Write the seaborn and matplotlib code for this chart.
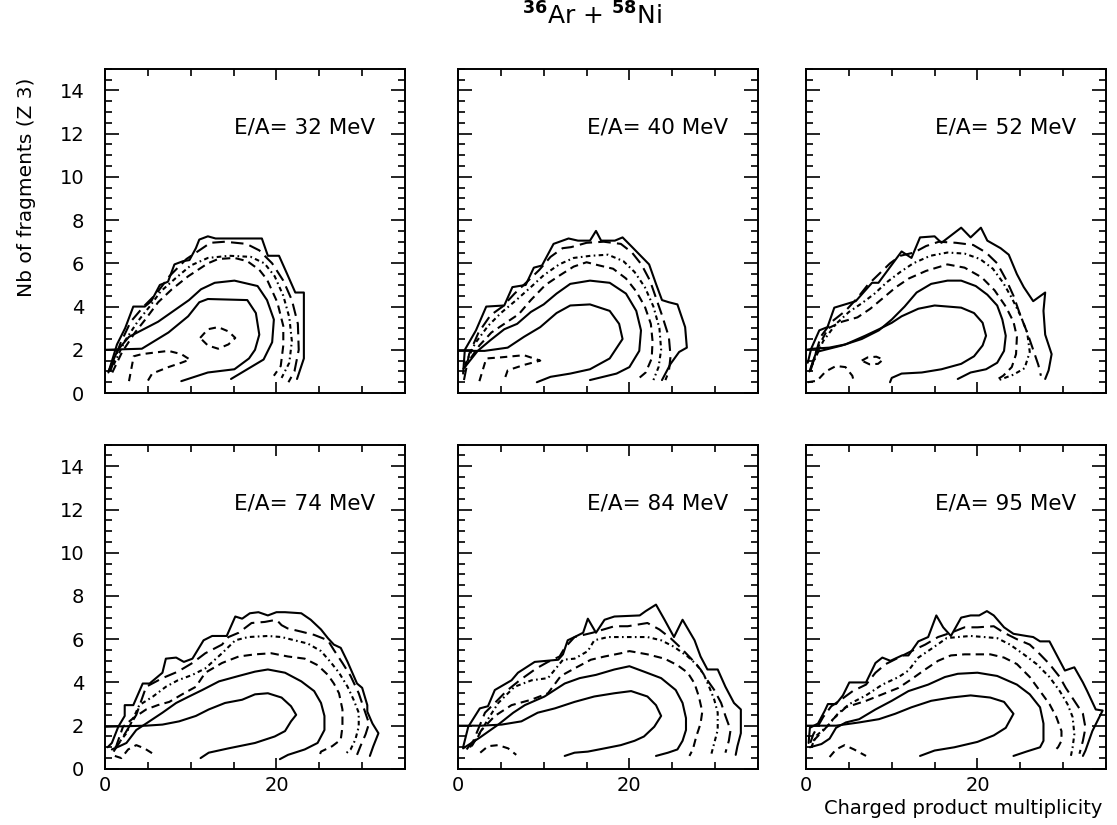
import numpy as np
import pandas as pd
import seaborn as sns
import matplotlib
matplotlib.use("Agg")
import matplotlib.pyplot as plt
from matplotlib.ticker import MultipleLocator

# --- DATA: contour lines, (multiplicity, nb of fragments) ---
# c1 = outermost solid, c2 long dash, c3 dash-dot, c4 dashed, c5/c6 inner solids, isl = small dashed islands
ENERGIES = [32, 40, 52, 74, 84, 95]

e32_c1 = [(0.4,0.95),(1.4,2.25),(2.35,3.0),(3.3,4.0),(4.65,4.0),(5.4,4.25),(6.4,5.0),(7.35,5.15),(8.1,5.95),(9.1,6.1),(9.85,6.15),(10.6,6.7),(11.0,7.1),(12.0,7.25),(12.9,7.15),(18.3,7.15),(19.0,6.35),(20.3,6.35),(21.2,5.55),(22.2,4.65),(23.2,4.65),(23.2,2.9),(23.2,1.6),(22.4,0.65)]
e32_c2 = [(0.6,1.0),(1.8,2.3),(3.0,3.3),(4.5,4.0),(6.0,4.6),(7.5,5.4),(9.5,6.2),(11.0,6.6),(12.3,6.95),(14.0,7.0),(16.5,6.9),(18.0,6.6),(19.5,6.0),(20.8,5.2),(21.8,4.3),(22.5,3.2),(22.6,2.0),(22.1,1.0),(21.4,0.5)]
e32_c3 = [(1.0,1.3),(2.3,2.4),(3.8,3.3),(5.2,4.0),(6.5,4.7),(8.2,5.3),(10.0,5.9),(12.0,6.25),(14.5,6.35),(17.0,6.3),(18.6,6.0),(19.8,5.4),(20.8,4.5),(21.5,3.5),(21.8,2.4),(21.5,1.4),(20.6,0.7)]
e32_c4 = [(0.85,0.95),(2.0,1.9),(3.5,2.8),(4.7,3.4),(6.2,4.2),(7.8,4.8),(9.7,5.4),(12.0,6.0),(13.2,6.2),(15.1,6.25),(16.6,6.1),(18.0,5.7),(18.9,5.25),(20.1,4.2),(20.8,3.1),(20.8,2.2),(20.5,1.25),(19.7,0.8)]
e32_c5 = [(0.4,1.0),(1.5,2.0),(2.8,2.6),(4.5,2.95),(6.2,3.3),(8.0,3.8),(9.8,4.3),(11.2,4.8),(12.8,5.1),(15.1,5.2),(17.8,4.95),(18.9,4.3),(19.7,3.4),(19.5,2.35),(18.5,1.55),(16.6,1.1),(14.7,0.65)]
e32_c6 = [(0.0,2.0),(4.3,2.05),(7.4,2.8),(9.7,3.55),(11.0,4.2),(12.0,4.35),(16.6,4.3),(17.6,3.7),(18.0,2.7),(17.5,2.0),(16.8,1.6),(15.1,1.1),(12.0,0.95),(8.9,0.55)]
e32_isl_a = [(11.1,2.55),(12.0,2.95),(13.2,3.05),(14.4,2.85),(15.2,2.55),(14.4,2.25),(13.2,2.05),(12.0,2.2),(11.1,2.55)]
e32_isl_b = [(2.8,0.55),(3.35,1.7),(4.3,1.8),(7.4,1.95),(8.9,1.8),(9.9,1.55),(8.9,1.4),(7.4,1.2),(5.5,0.9),(4.9,0.5)]

e40_c1 = [(0.6,0.9),(0.8,2.0),(2.1,2.9),(3.3,4.0),(5.4,4.05),(6.35,4.9),(7.9,5.0),(8.85,5.8),(9.8,5.9),(11.15,6.9),(12.9,7.15),(14.0,7.05),(15.4,7.05),(16.1,7.5),(16.7,7.05),(18.3,7.05),(19.2,7.2),(20.2,6.8),(22.3,5.95),(23.1,5.05),(23.8,4.3),(24.6,4.2),(25.6,4.1),(26.5,3.05),(26.7,2.1),(25.8,1.9),(24.8,1.35),(23.8,0.6)]
e40_c2 = [(0.7,0.6),(1.3,1.8),(2.4,2.8),(3.8,3.6),(5.2,4.0),(6.6,4.6),(8.2,5.2),(9.5,5.7),(10.8,6.3),(12.2,6.7),(13.2,6.75),(15.0,6.95),(17.0,7.0),(19.0,6.9),(20.3,6.5),(21.4,5.95),(22.4,5.2),(23.1,4.4),(23.8,3.6),(24.6,2.6),(24.8,1.7),(24.6,1.0),(24.2,0.6)]
e40_c3 = [(0.8,1.3),(2.0,2.3),(3.5,3.1),(5.0,3.7),(6.8,4.3),(8.5,4.9),(10.0,5.45),(11.8,5.95),(13.5,6.25),(15.5,6.35),(17.5,6.4),(19.3,6.1),(20.6,5.6),(21.8,4.9),(22.8,4.0),(23.5,3.0),(23.7,2.0),(23.4,1.2),(22.8,0.6)]
e40_c4 = [(0.6,1.1),(2.5,2.2),(3.9,2.8),(5.4,3.2),(7.1,3.65),(8.5,4.3),(10.2,5.0),(11.9,5.45),(13.5,5.85),(15.0,6.05),(16.5,5.9),(18.1,5.75),(19.6,5.3),(20.8,4.7),(21.8,4.0),(22.5,3.2),(22.7,2.4),(22.6,1.6),(21.9,0.95),(21.0,0.65)]
e40_c5 = [(0.8,1.2),(2.3,1.95),(3.8,2.45),(5.4,2.95),(6.9,3.2),(8.5,3.75),(10.0,4.1),(11.5,4.6),(13.1,5.05),(15.4,5.2),(17.7,5.1),(19.6,4.6),(20.8,3.8),(21.35,2.9),(21.15,1.95),(20.0,1.2),(18.5,0.9),(15.4,0.6)]
e40_c6 = [(0.0,1.95),(3.1,1.95),(5.8,2.1),(7.7,2.6),(9.6,3.05),(11.5,3.7),(13.1,4.05),(15.4,4.1),(17.7,3.8),(18.8,3.2),(19.2,2.5),(17.7,1.6),(15.4,1.1),(13.1,0.9),(10.8,0.75),(9.2,0.5)]
e40_isl_b = [(2.5,0.55),(3.3,1.6),(5.0,1.65),(7.7,1.75),(9.6,1.5),(7.7,1.3),(5.8,1.05),(5.4,0.6)]

e52_c1 = [(0.2,1.4),(0.6,2.05),(1.55,2.9),(2.5,3.05),(3.3,3.95),(5.8,4.25),(7.7,5.1),(8.45,5.1),(11.15,6.55),(12.3,6.25),(13.3,7.2),(15.0,7.25),(15.8,6.95),(18.1,7.65),(19.2,7.2),(20.4,7.65),(21.15,7.05),(22.7,6.7),(23.65,6.4),(24.6,5.5),(25.4,4.9),(26.5,4.25),(27.9,4.65),(27.7,3.8),(27.9,2.7),(28.65,1.8),(28.3,1.05),(27.9,0.65)]
e52_c2 = [(0.5,1.0),(1.7,2.6),(3.0,3.3),(4.6,3.8),(6.0,4.4),(7.2,5.0),(8.5,5.5),(9.8,6.0),(11.0,6.35),(12.6,6.5),(14.0,6.8),(15.5,7.0),(17.5,6.95),(19.5,6.85),(21.0,6.5),(22.3,6.0),(23.4,5.2),(24.2,4.5),(25.0,3.6),(25.8,2.8),(26.5,2.0),(27.1,1.3),(27.4,0.8)]
e52_c3 = [(0.6,1.2),(2.0,2.4),(3.5,3.2),(5.0,3.75),(6.5,4.15),(8.0,4.6),(9.5,5.15),(11.0,5.6),(12.5,6.0),(14.5,6.35),(16.5,6.5),(18.5,6.45),(20.3,6.2),(21.8,5.75),(23.0,5.1),(24.0,4.4),(25.0,3.6),(25.8,2.8),(26.1,1.9),(25.5,1.15),(24.2,0.85),(22.5,0.6)]
e52_c4 = [(0.7,1.3),(1.5,2.2),(2.6,3.0),(4.2,3.3),(6.0,3.5),(7.5,3.9),(9.0,4.4),(10.5,4.9),(12.0,5.3),(14.0,5.65),(16.5,5.95),(18.5,5.8),(20.5,5.35),(22.0,4.75),(23.3,4.0),(24.2,3.3),(24.6,2.6),(24.5,1.8),(24.0,1.2),(23.0,0.8),(22.0,0.55)]
e52_c5 = [(0.4,1.0),(1.2,1.9),(4.2,2.2),(6.5,2.5),(8.5,2.9),(10.0,3.4),(11.5,4.0),(12.9,4.65),(14.6,5.05),(16.5,5.2),(18.1,5.2),(19.8,4.95),(21.15,4.55),(22.3,4.05),(22.9,3.4),(23.3,2.65),(23.1,1.95),(22.3,1.4),(21.0,1.1),(19.2,0.95),(17.7,0.65)]
e52_c6 = [(0.0,2.0),(0.8,2.05),(2.7,2.1),(4.6,2.25),(6.9,2.65),(8.5,2.95),(10.0,3.25),(11.15,3.55),(13.1,3.9),(15.0,4.05),(18.1,3.95),(19.6,3.7),(20.6,3.25),(21.0,2.65),(20.6,2.2),(19.6,1.7),(18.1,1.35),(15.8,1.1),(13.5,0.95),(11.15,0.9),(10.0,0.7),(9.8,0.5)]
e52_isl_a = [(6.5,1.5),(7.2,1.65),(8.2,1.68),(9.0,1.55),(8.4,1.35),(7.4,1.33),(6.5,1.5)]
e52_isl_b = [(0.2,0.5),(1.3,0.57),(2.3,1.0),(3.5,1.25),(4.6,1.2),(5.4,0.8),(5.6,0.5)]

e74_c1 = [(0.3,1.0),(0.8,1.2),(1.55,1.95),(2.3,2.45),(2.3,2.95),(3.3,2.95),(4.4,3.95),(5.2,3.95),(6.7,4.45),(7.1,5.1),(8.3,5.15),(9.2,4.95),(10.2,5.1),(11.5,5.95),(12.5,6.15),(14.2,6.15),(15.2,7.05),(16.0,6.95),(16.9,7.2),(17.9,7.25),(19.0,7.1),(20.0,7.25),(21.0,7.25),(22.9,7.2),(24.0,6.9),(25.2,6.45),(26.0,6.05),(26.7,5.75),(27.5,5.6),(28.3,4.95),(29.4,3.95),(30.0,3.75),(30.6,2.95),(30.6,2.65),(31.2,2.1),(31.9,1.65),(31.3,1.05),(30.9,0.6)]
e74_c2 = [(1.0,0.8),(1.9,1.35),(3.65,2.5),(4.8,3.8),(6.7,4.2),(8.5,4.5),(10.2,4.9),(11.7,5.35),(13.65,5.75),(14.4,6.1),(15.6,6.3),(17.1,6.75),(18.65,6.8),(20.0,6.9),(20.6,6.65),(21.3,6.5),(22.9,6.35),(24.4,6.2),(26.0,5.95),(26.7,5.5),(27.7,4.9),(28.65,4.3),(29.6,3.5),(30.2,2.8),(30.8,2.1),(30.4,1.6),(29.8,1.05),(29.4,0.65)]
e74_c3 = [(1.2,1.0),(2.5,1.65),(4.0,2.95),(5.6,3.35),(7.1,3.8),(8.5,4.1),(10.2,4.35),(11.7,4.65),(13.65,5.35),(15.2,5.95),(16.7,6.1),(19.0,6.15),(20.6,6.1),(22.1,5.95),(23.65,5.8),(25.2,5.45),(26.3,4.95),(27.3,4.45),(28.3,3.8),(29.0,3.2),(29.6,2.6),(29.6,1.95),(29.2,1.35),(28.65,0.9),(27.9,0.65)]
e74_c4 = [(1.35,1.1),(2.1,1.95),(3.3,2.35),(4.8,2.75),(6.15,2.95),(7.5,3.1),(9.0,3.45),(10.6,3.8),(11.7,4.45),(13.65,4.9),(15.6,5.2),(17.5,5.3),(19.4,5.35),(21.35,5.2),(23.3,5.1),(24.8,4.8),(26.0,4.35),(26.7,3.95),(27.3,3.5),(27.7,2.75),(27.7,1.95),(27.5,1.35),(26.5,1.05),(25.2,0.8),(25.0,0.6)]
e74_c5 = [(0.8,0.9),(1.7,1.05),(2.5,1.2),(3.65,1.8),(4.8,2.1),(6.7,2.6),(8.3,3.05),(9.8,3.35),(11.35,3.65),(13.3,4.05),(15.6,4.3),(17.5,4.5),(19.0,4.6),(21.0,4.45),(22.9,4.05),(24.4,3.6),(25.2,3.05),(25.6,2.45),(25.6,1.8),(24.8,1.2),(23.3,0.9),(21.35,0.65),(20.4,0.45)]
e74_c6 = [(0.0,1.95),(4.8,2.0),(6.7,2.05),(8.65,2.2),(10.6,2.45),(12.1,2.75),(14.0,3.05),(16.0,3.2),(17.5,3.45),(19.0,3.5),(20.6,3.3),(21.7,2.9),(22.3,2.5),(21.7,2.2),(21.0,1.75),(19.8,1.5),(17.5,1.2),(14.4,0.95),(12.1,0.75),(11.15,0.5)]
e74_isl_b = [(1.15,0.6),(1.9,0.5),(2.7,0.9),(3.65,1.1),(4.6,0.95),(5.4,0.75),(6.0,0.6)]

e84_c1 = [(0.6,1.0),(1.2,1.95),(2.55,2.8),(3.5,2.9),(4.3,3.65),(6.25,4.1),(7.0,4.45),(8.95,4.95),(11.7,5.05),(12.25,5.3),(12.8,5.95),(13.6,6.1),(14.6,6.3),(15.15,6.95),(16.1,6.3),(17.1,6.9),(18.25,7.05),(21.2,7.1),(21.9,7.3),(23.1,7.6),(24.1,6.9),(25.2,6.1),(26.2,6.9),(27.6,5.95),(28.3,5.2),(29.1,4.6),(30.3,4.6),(31.2,3.8),(32.2,3.05),(33.0,2.75),(33.0,1.65),(32.6,1.05),(32.4,0.65)]
e84_c2 = [(1.0,0.9),(1.8,1.3),(3.15,2.6),(4.3,3.05),(5.65,3.6),(7.2,4.1),(9.15,4.65),(10.5,4.95),(11.85,5.2),(12.45,5.6),(13.6,6.1),(15.7,6.3),(18.25,6.6),(19.8,6.6),(22.1,6.75),(23.5,6.45),(24.8,6.05),(26.0,5.6),(27.2,5.1),(28.3,4.6),(29.1,4.1),(29.9,3.65),(30.7,3.05),(31.2,2.45),(31.8,1.8),(31.6,1.3),(31.2,0.75)]
e84_c3 = [(1.4,1.0),(2.35,1.5),(3.5,2.3),(4.7,3.05),(6.6,3.8),(8.6,4.1),(10.5,4.2),(12.25,5.05),(13.6,5.1),(15.15,5.45),(15.9,5.95),(17.5,6.1),(19.8,6.1),(22.1,6.1),(23.7,5.95),(25.2,5.65),(26.8,5.2),(27.9,4.8),(28.7,4.35),(29.3,3.8),(29.9,3.2),(30.3,2.6),(30.3,1.8),(29.9,1.2),(29.5,0.6)]
e84_c4 = [(1.6,1.05),(2.75,1.8),(4.3,2.45),(6.25,2.95),(8.55,3.2),(10.5,3.5),(12.0,4.3),(13.6,4.65),(15.5,5.05),(17.1,5.2),(19.0,5.35),(20.0,5.45),(22.1,5.3),(24.1,5.1),(25.6,4.8),(26.8,4.45),(27.6,3.95),(28.1,3.35),(28.5,2.65),(28.3,2.1),(27.8,1.5),(27.4,0.9),(27.0,0.6)]
e84_c5 = [(0.6,0.95),(2.55,1.45),(4.7,2.05),(6.45,2.6),(7.8,2.95),(10.1,3.35),(12.45,3.95),(14.2,4.2),(16.1,4.35),(18.25,4.6),(20.0,4.75),(21.7,4.5),(23.7,4.2),(25.4,3.65),(26.2,3.05),(26.6,2.35),(26.6,1.8),(26.2,1.3),(25.6,0.9),(24.5,0.75),(23.1,0.6)]
e84_c6 = [(0.0,2.0),(2.75,2.0),(5.1,2.05),(7.4,2.2),(9.3,2.6),(11.3,2.8),(13.6,3.1),(15.9,3.35),(18.25,3.5),(20.2,3.6),(22.1,3.35),(23.1,2.95),(23.7,2.45),(22.9,1.95),(21.7,1.5),(20.6,1.3),(19.0,1.1),(17.1,0.95),(15.15,0.8),(13.6,0.75),(12.45,0.6)]
e84_isl_b = [(2.6,0.75),(3.5,1.05),(4.7,1.1),(5.85,0.95),(6.8,0.65)]

e95_c1 = [(0.3,1.2),(0.45,1.9),(1.4,2.1),(2.2,2.7),(2.55,3.0),(3.5,3.0),(4.3,3.4),(5.05,4.0),(7.0,4.0),(8.1,4.9),(8.9,5.15),(9.85,5.0),(11.2,5.25),(11.95,5.25),(13.1,5.9),(14.25,6.1),(15.2,7.1),(16.0,6.55),(16.9,6.15),(18.1,7.0),(19.2,7.1),(20.2,7.1),(21.1,7.3),(21.9,7.1),(23.1,6.55),(24.2,6.25),(25.7,6.15),(26.5,6.1),(27.3,5.9),(28.4,5.9),(29.2,5.3),(30.2,4.55),(31.3,4.7),(32.3,4.0),(32.8,3.6),(33.8,2.75),(34.6,2.7),(33.4,1.75),(32.6,0.85),(32.3,0.6)]
e95_c2 = [(0.5,1.2),(0.85,1.6),(2.0,2.4),(2.95,2.9),(3.9,3.15),(5.45,3.6),(7.0,3.9),(8.1,4.45),(9.3,4.85),(10.8,5.15),(12.3,5.45),(13.9,5.75),(15.4,6.1),(16.9,6.3),(18.5,6.55),(20.0,6.55),(21.9,6.6),(23.1,6.3),(24.6,6.0),(26.1,5.75),(27.3,5.3),(28.4,4.85),(29.6,4.25),(30.3,3.75),(31.3,3.15),(32.3,2.55),(32.6,1.9),(32.3,1.3),(31.9,0.7)]
e95_c3 = [(0.6,1.0),(1.25,1.55),(2.55,2.0),(3.7,2.55),(5.05,3.0),(7.0,3.4),(8.9,3.9),(10.8,4.25),(11.95,4.55),(13.1,5.15),(14.6,5.55),(16.4,6.05),(17.7,6.1),(19.2,6.15),(20.8,6.1),(22.3,6.05),(23.8,5.75),(25.4,5.3),(26.9,4.85),(28.4,4.25),(29.6,3.6),(30.5,3.0),(31.1,2.4),(31.3,1.6),(31.1,1.0),(30.9,0.6)]
e95_c4 = [(0.85,1.3),(2.2,1.85),(3.15,2.3),(4.65,2.85),(7.0,3.15),(8.9,3.45),(10.8,3.75),(12.3,4.15),(13.9,4.6),(15.4,5.0),(16.9,5.25),(18.5,5.3),(20.0,5.3),(21.5,5.3),(23.1,5.15),(24.6,4.85),(26.1,4.25),(27.3,3.6),(28.4,3.0),(29.2,2.4),(29.8,1.75),(29.8,1.3),(29.4,1.0),(29.0,0.85)]
e95_c5 = [(0.45,1.0),(1.8,1.15),(2.75,1.4),(3.5,1.9),(4.65,2.15),(6.2,2.3),(8.1,2.75),(10.0,3.15),(11.95,3.6),(14.25,3.9),(16.2,4.25),(17.7,4.4),(20.0,4.45),(22.3,4.3),(24.6,3.9),(26.1,3.45),(27.3,2.85),(27.7,2.1),(27.7,1.3),(27.3,1.0),(25.7,0.8),(24.2,0.6)]
e95_c6 = [(0.0,2.0),(3.5,2.0),(6.2,2.15),(8.5,2.3),(10.4,2.55),(12.3,2.85),(14.6,3.15),(16.9,3.3),(19.2,3.4),(21.5,3.3),(23.1,3.1),(24.2,2.55),(23.3,1.9),(21.9,1.55),(20.0,1.25),(17.3,1.0),(15.0,0.85),(13.3,0.6)]
e95_isl_b = [(2.75,0.55),(3.5,0.9),(4.5,1.1),(5.6,0.9),(7.0,0.6)]

# --- STYLE ---
LINE_STYLES = {
    'c1': '-', 'c2': (0, (6, 3)), 'c3': (0, (2.2, 1.6, 0.8, 1.6)),
    'c4': (0, (4, 2.5)), 'c5': '-', 'c6': '-', 'isl': (0, (3.5, 2.5)),
}

panels = {
    32: [('c1', e32_c1), ('c2', e32_c2), ('c3', e32_c3), ('c4', e32_c4), ('c5', e32_c5), ('c6', e32_c6), ('isl', e32_isl_a), ('isl', e32_isl_b)],
    40: [('c1', e40_c1), ('c2', e40_c2), ('c3', e40_c3), ('c4', e40_c4), ('c5', e40_c5), ('c6', e40_c6), ('isl', e40_isl_b)],
    52: [('c1', e52_c1), ('c2', e52_c2), ('c3', e52_c3), ('c4', e52_c4), ('c5', e52_c5), ('c6', e52_c6), ('isl', e52_isl_a), ('isl', e52_isl_b)],
    74: [('c1', e74_c1), ('c2', e74_c2), ('c3', e74_c3), ('c4', e74_c4), ('c5', e74_c5), ('c6', e74_c6), ('isl', e74_isl_b)],
    84: [('c1', e84_c1), ('c2', e84_c2), ('c3', e84_c3), ('c4', e84_c4), ('c5', e84_c5), ('c6', e84_c6), ('isl', e84_isl_b)],
    95: [('c1', e95_c1), ('c2', e95_c2), ('c3', e95_c3), ('c4', e95_c4), ('c5', e95_c5), ('c6', e95_c6), ('isl', e95_isl_b)],
}

sns.set_theme(style='ticks')
plt.rcParams['font.family'] = ['DejaVu Sans']
plt.rcParams['axes.linewidth'] = 1.4
plt.rcParams['text.color'] = 'black'
plt.rcParams['axes.labelcolor'] = 'black'
plt.rcParams['xtick.color'] = 'black'
plt.rcParams['ytick.color'] = 'black'

fig = plt.figure(figsize=(11.17, 8.25), dpi=100)

# axes positions (left, bottom) for the 2x3 grid
col_left = [0.094, 0.410, 0.7216]
row_bottom = [0.5236, 0.068]
W, H = 0.2686, 0.393

for i, energy in enumerate(ENERGIES):
    row, col = divmod(i, 3)
    ax = fig.add_axes([col_left[col], row_bottom[row], W, H])

    for key, pts in panels[energy]:
        df = pd.DataFrame(pts, columns=['mult', 'nfrag'])
        sns.lineplot(data=df, x='mult', y='nfrag', sort=False, estimator=None,
                     color='black', linewidth=1.5, linestyle=LINE_STYLES[key], ax=ax)

    ax.set_xlim(0, 35)
    ax.set_ylim(0, 15)
    ax.set_xlabel('')
    ax.set_ylabel('')
    ax.xaxis.set_major_locator(MultipleLocator(20))
    ax.xaxis.set_minor_locator(MultipleLocator(5))
    ax.yaxis.set_major_locator(MultipleLocator(2))
    ax.yaxis.set_minor_locator(MultipleLocator(0.5))
    ax.tick_params(which='both', direction='in', top=True, right=True,
                   colors='black', labelcolor='black', width=1.2)
    ax.tick_params(axis='y', which='major', length=10, pad=15, labelsize=14)
    ax.tick_params(axis='x', which='major', length=8, pad=5, labelsize=14)
    ax.tick_params(which='minor', length=5)
    ax.tick_params(labelleft=(col == 0), labelbottom=(row == 1))
    for sp in ax.spines.values():
        sp.set_color('black')

    ax.text(31.5, 12.3, f'E/A= {energy} MeV', ha='right', va='center',
            fontsize=15.5, color='black')

fig.text(592 / 1117, 1 - 16 / 825, r'$^{\mathbf{36}}$Ar + $^{\mathbf{58}}$Ni',
         ha='center', va='center', fontsize=18)
fig.text(0.024, 1 - 187 / 825, 'Nb of fragments (Z 3)', rotation=90,
         ha='center', va='center', fontsize=14.5)
fig.text(963 / 1117, 1 - 808 / 825, 'Charged product multiplicity',
         ha='center', va='center', fontsize=14)

plt.savefig('out.png', dpi=100)
